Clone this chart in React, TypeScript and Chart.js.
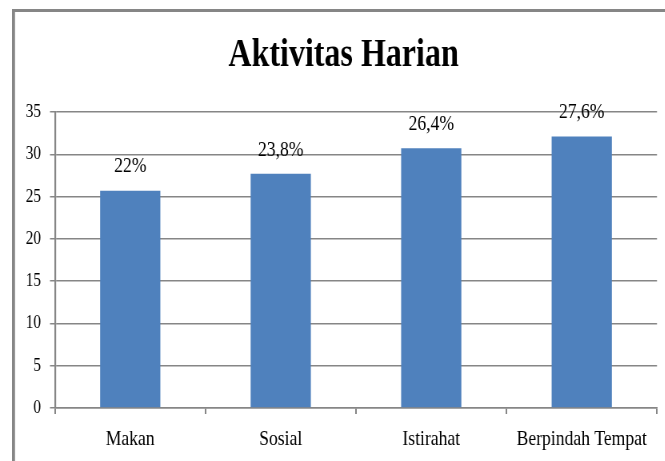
import React, { useEffect, useRef } from "react";
import { Chart, registerables } from "chart.js";

Chart.register(...registerables);

const categories: string[] = ["Makan", "Sosial", "Istirahat", "Berpindah Tempat"];
const values: number[] = [25.7, 27.7, 30.7, 32.1];
const valueLabels: string[] = ["22%", "23,8%", "26,4%", "27,6%"];
const yMin = 0;
const yMax = 35;
const yStep = 5;
const titleText = "Aktivitas Harian";

const SX = 0.8; // horizontal squeeze of the whole picture
const W = 859; // internal canvas width
const H = 461;
const FONT = "'Liberation Serif', 'Times New Roman', serif";
const GRID = "#868686";
const BAR = "#4F81BD";

const borderPlugin = {
  id: "frameBorder",
  beforeDraw(chart: any) {
    const ctx = chart.ctx;
    ctx.save();
    ctx.fillStyle = "#ffffff";
    ctx.fillRect(0, 0, chart.width, chart.height);
    ctx.fillStyle = GRID;
    ctx.fillRect(12 / SX, 9, 3 / SX, chart.height);
    ctx.fillRect(12 / SX, 9, chart.width, 3);
    ctx.restore();
  },
};

const valueLabelPlugin = {
  id: "valueLabels",
  afterDatasetsDraw(chart: any) {
    const ctx = chart.ctx;
    const meta = chart.getDatasetMeta(0);
    ctx.save();
    ctx.font = `22px ${FONT}`;
    ctx.fillStyle = "#000000";
    ctx.textAlign = "center";
    ctx.textBaseline = "middle";
    meta.data.forEach((bar: any, i: number) => {
      ctx.fillText(valueLabels[i], bar.x, bar.y - 24);
    });
    ctx.restore();
  },
};

export default function App() {
  const canvasRef = useRef<HTMLCanvasElement | null>(null);

  useEffect(() => {
    if (!canvasRef.current) return;
    const chart = new Chart(canvasRef.current, {
      type: "bar",
      data: {
        labels: categories,
        datasets: [
          {
            data: values,
            backgroundColor: BAR,
            borderWidth: 0,
            categoryPercentage: 1,
            barPercentage: 0.4,
          },
        ],
      },
      options: {
        responsive: false,
        maintainAspectRatio: false,
        animation: false,
        devicePixelRatio: 1,
        layout: { padding: { top: 12, left: 0, right: 0, bottom: 0 } },
        plugins: {
          legend: { display: false },
          tooltip: { enabled: false },
          title: {
            display: true,
            text: titleText,
            color: "#000000",
            font: { family: FONT, size: 40, weight: "bold", lineHeight: 1.2 },
            padding: { top: 19.5, bottom: 32.5 },
          },
        },
        scales: {
          x: {
            type: "category",
            grid: {
              display: true,
              drawOnChartArea: false,
              drawTicks: true,
              tickLength: 6,
              color: GRID,
              lineWidth: 2,
              offset: true,
            },
            border: { display: true, color: GRID, width: 1.5 },
            ticks: {
              color: "#000000",
              font: { family: FONT, size: 22, lineHeight: 1.2 },
              padding: 12.4,
              maxRotation: 0,
              autoSkip: false,
            },
            afterFit: (scale: any) => {
              scale.height = 53;
            },
          },
          y: {
            type: "linear",
            min: yMin,
            max: yMax,
            grid: {
              display: true,
              color: GRID,
              lineWidth: 1.5,
              drawTicks: true,
              tickLength: 6.25,
            },
            border: { display: true, color: GRID, width: 2.2 },
            ticks: {
              stepSize: yStep,
              color: "#000000",
              font: { family: FONT, size: 19, lineHeight: 1.2 },
              padding: 11.25,
            },
            afterFit: (scale: any) => {
              scale.width = 55 / SX;
            },
          },
          y2: {
            type: "linear",
            position: "right",
            display: true,
            grid: { display: false, drawTicks: false },
            border: { display: false },
            ticks: { display: false },
            afterFit: (scale: any) => {
              scale.width = W - 657 / SX;
            },
          },
        },
      },
      plugins: [borderPlugin, valueLabelPlugin],
    } as any);
    return () => chart.destroy();
  }, []);

  return (
    <div
      style={{
        position: "fixed",
        left: 0,
        top: 0,
        width: 665,
        height: H,
        overflow: "hidden",
        background: "#ffffff",
      }}
    >
      <div
        style={{
          width: W,
          height: H,
          transform: `scaleX(${SX})`,
          transformOrigin: "0 0",
        }}
      >
        <canvas
          ref={canvasRef}
          width={W}
          height={H}
          style={{ width: W, height: H, display: "block" }}
        />
      </div>
    </div>
  );
}
